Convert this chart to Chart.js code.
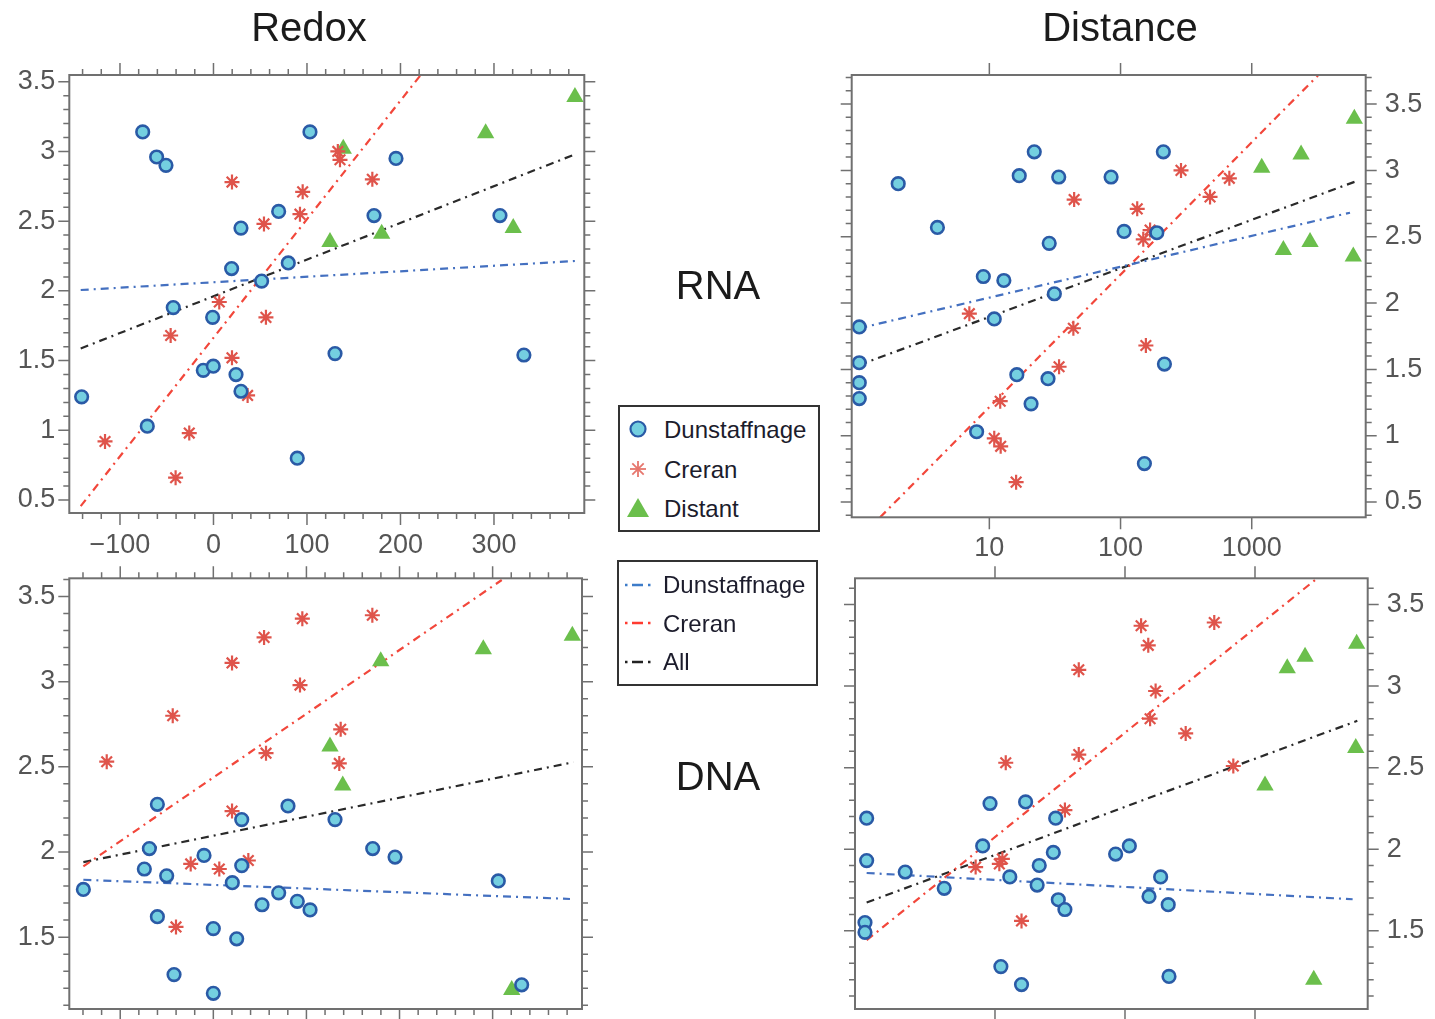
<!DOCTYPE html>
<html><head><meta charset="utf-8">
<script src="https://cdn.jsdelivr.net/npm/chart.js@4.4.1/dist/chart.umd.min.js"></script>
<style>
html,body{margin:0;padding:0;background:#fff;width:1435px;height:1019px;overflow:hidden;font-family:"Liberation Sans",Arial,sans-serif;}
canvas{position:absolute;left:0;top:0;}
.t{position:absolute;font-size:40px;color:#1b1b1b;transform:translate(-50%,-50%);white-space:nowrap;line-height:1}
.lg{position:absolute;border:2px solid #333;box-sizing:border-box;background:#fff}
.it{position:absolute;font-size:24px;line-height:1;color:#1c1c2c;transform:translateY(-50%);white-space:nowrap}
svg{position:absolute;overflow:visible}
</style></head>
<body>
<canvas id="c1" width="1435" height="1019"></canvas>
<canvas id="c2" width="1435" height="1019"></canvas>
<canvas id="c3" width="1435" height="1019"></canvas>
<canvas id="c4" width="1435" height="1019"></canvas>

<div class="t" style="left:309px;top:27px">Redox</div>
<div class="t" style="left:1120px;top:27px">Distance</div>
<div class="t" style="left:718px;top:285px">RNA</div>
<div class="t" style="left:718px;top:776px">DNA</div>

<div class="lg" style="left:618px;top:405px;width:202px;height:127px"></div>
<svg style="left:0;top:0" width="1" height="1">
  <circle cx="638" cy="429" r="7.5" fill="#74cfe0" stroke="#2a5aa6" stroke-width="2.2"/>
  <g stroke="#e6766d" stroke-width="1.8">
    <line x1="630" y1="469" x2="646" y2="469"/><line x1="638" y1="461" x2="638" y2="477"/>
    <line x1="632.3" y1="463.3" x2="643.7" y2="474.7"/><line x1="632.3" y1="474.7" x2="643.7" y2="463.3"/>
  </g>
  <polygon points="638,498 649,517 627,517" fill="#6bbf4c"/>
  <g stroke-width="2.6">
    <path d="M625 585 h2.5 M632 585 h11 M648 585 h2.5" stroke="#3d7cc9"/>
    <path d="M625 623 h2.5 M632 623 h11 M648 623 h2.5" stroke="#ff3b30"/>
    <path d="M625 662 h2.5 M632 662 h11 M648 662 h2.5" stroke="#222"/>
  </g>
</svg>
<div class="it" style="left:664px;top:430px">Dunstaffnage</div>
<div class="it" style="left:664px;top:470px">Creran</div>
<div class="it" style="left:664px;top:509px">Distant</div>
<div class="lg" style="left:617px;top:560px;width:201px;height:126px;background:transparent"></div>
<div class="it" style="left:663px;top:585px">Dunstaffnage</div>
<div class="it" style="left:663px;top:624px">Creran</div>
<div class="it" style="left:663px;top:662px">All</div>

<script>
// ---------- tick labels ----------
const redoxTicks = [-100, 0, 100, 200, 300];
const distanceTicks = [10, 100, 1000];
const rnaYTicks = [0.5, 1, 1.5, 2, 2.5, 3, 3.5];
const dnaYTicks = [1.5, 2, 2.5, 3, 3.5];

// ---------- RNA vs Redox ----------
const rnaRedoxDunstaffnage = [[-75.7,3.14],[103.2,3.14],[-60.8,2.96],[-50.8,2.90],[69.7,2.57],[29.4,2.45],[80,2.20],[19.4,2.16],[51.5,2.07],[-43,1.88],[-0.9,1.81],[-10.9,1.43],[-0.2,1.46],[24.1,1.40],[29.4,1.28],[-141,1.24],[-70.8,1.03],[89.6,0.80],[195.2,2.95],[171.7,2.54],[306.4,2.54],[130,1.55],[332,1.54]];
const rnaRedoxCreran = [[19.8,2.78],[95.4,2.71],[92.5,2.55],[54,2.48],[6.2,1.92],[56.1,1.81],[-45.8,1.68],[19.8,1.52],[36.5,1.25],[-116,0.92],[-25.9,0.98],[-40.5,0.66],[133,3.00],[135.3,2.94],[169.9,2.80]];
const rnaRedoxDistant = [[138.8,3.02],[291.1,3.13],[386.6,3.39],[124.6,2.35],[179.9,2.41],[320.6,2.45]];
const rnaRedoxFitDunstaffnage = [[-142,2.006],[386.6,2.214]];
const rnaRedoxFitCreran = [[-142,0.456],[221.6,3.548]];
const rnaRedoxFitAll = [[-142,1.587],[386.6,2.979]];

// ---------- DNA vs Redox ----------
const dnaRedoxDunstaffnage = [[-60.1,2.28],[80.2,2.27],[30.5,2.19],[-68.7,2.02],[-10,1.98],[-74.1,1.90],[-50.1,1.86],[30.5,1.92],[20.4,1.82],[-139.6,1.78],[70.2,1.76],[52.3,1.69],[90.2,1.71],[103.9,1.66],[-60.1,1.62],[0,1.55],[25.1,1.49],[-42.2,1.28],[0,1.17],[130.7,2.19],[171.2,2.02],[195.2,1.97],[306.1,1.83],[331.2,1.22]];
const dnaRedoxCreran = [[95.6,3.37],[54.5,3.26],[20.1,3.11],[93.1,2.98],[-43.6,2.80],[56.6,2.58],[-114.5,2.53],[20.1,2.24],[37.6,1.95],[-24.3,1.93],[6.4,1.90],[-40.1,1.56],[170.8,3.39],[136.8,2.72],[135.3,2.52]];
const dnaRedoxDistant = [[179.8,3.12],[290,3.19],[385.6,3.27],[125.3,2.62],[139,2.39],[320.5,1.19]];
const dnaRedoxFitDunstaffnage = [[-139.6,1.837],[383.1,1.724]];
const dnaRedoxFitCreran = [[-139.6,1.915],[309.8,3.597]];
const dnaRedoxFitAll = [[-139.6,1.94],[386.7,2.527]];

// ---------- RNA vs Distance ----------
const rnaDistDunstaffnage = [[2.02,2.90],[22.0,3.14],[16.9,2.96],[33.8,2.95],[84.7,2.95],[4.02,2.57],[28.6,2.45],[9.0,2.20],[12.9,2.17],[31.3,2.07],[10.9,1.88],[1.02,1.82],[1.02,1.55],[1.02,1.40],[1.02,1.28],[16.2,1.46],[28.0,1.43],[20.8,1.24],[8.0,1.03],[212,3.14],[106.4,2.54],[189,2.53],[216,1.54],[152,0.79]];
const rnaDistCreran = [[44.3,2.78],[7.04,1.92],[43.7,1.81],[34.0,1.52],[12.1,1.26],[10.9,0.98],[12.2,0.92],[16.0,0.65],[289,3.00],[675,2.94],[481,2.80],[134,2.71],[168,2.55],[149,2.48],[156,1.68]];
const rnaDistDistant = [[6053,3.39],[2377,3.12],[1192,3.02],[1742,2.40],[2782,2.46],[5943,2.35]];
const rnaDistFitDunstaffnage = [[1.02,1.81],[5610,2.681]];
const rnaDistFitCreran = [[1.47,0.385],[3221,3.719]];
const rnaDistFitAll = [[1.02,1.533],[6124,2.915]];

// ---------- DNA vs Distance ----------
const dnaDistDunstaffnage = [[1.03,2.19],[1.03,1.93],[1.0,1.55],[1.0,1.49],[2.04,1.86],[4.07,1.76],[9.16,2.28],[17.2,2.29],[29.3,2.19],[8.04,2.02],[28.1,1.98],[21.9,1.90],[13.0,1.83],[21.1,1.78],[30.7,1.69],[34.5,1.63],[11.1,1.28],[16.0,1.17],[84.7,1.97],[108,2.02],[188,1.83],[153,1.71],[215,1.66],[218,1.22]];
const dnaDistCreran = [[44.1,3.10],[44.1,2.58],[12.1,2.53],[34.5,2.24],[11.4,1.94],[10.8,1.91],[7.1,1.89],[16.0,1.56],[133,3.37],[486,3.39],[151,3.25],[172,2.97],[156,2.80],[293,2.71],[681,2.51]];
const dnaDistDistant = [[6053,3.26],[2427,3.18],[1770,3.11],[5957,2.62],[1194,2.39],[2831,1.20]];
const dnaDistFitDunstaffnage = [[1.03,1.854],[5636,1.693]];
const dnaDistFitCreran = [[1.03,1.442],[2944,3.655]];
const dnaDistFitAll = [[1.03,1.673],[6124,2.787]];

// ---------- drawing ----------
const W = 1435, H = 1019, AX = 60;
const pts = a => a.map(([x, y]) => ({x, y}));
const fmt = v => (v < 0 ? '\u2212' + Math.abs(v) : String(v));
const tickFont = {family: 'Liberation Sans', size: 27};

const frameTicks = {
  id: 'frameTicks',
  afterDraw(chart, args, o) {
    const ctx = chart.ctx, a = chart.chartArea, xs = chart.scales.x, ys = chart.scales.y;
    const steps = (min, max, minor, major) => {
      const out = [];
      const i0 = Math.ceil(min / minor - 1e-9), i1 = Math.floor(max / minor + 1e-9);
      for (let i = i0; i <= i1; i++) {
        const v = i * minor, r = v / major;
        out.push({v, major: Math.abs(r - Math.round(r)) < 1e-6});
      }
      return out;
    };
    ctx.save();
    ctx.strokeStyle = '#707070';
    ctx.lineWidth = 1.5;
    ctx.beginPath();
    const xt = o.xLog ? o.xLog.map(v => ({v, major: true})) : steps(xs.min, xs.max, o.xMinor, o.xMajor);
    xt.forEach(t => {
      const p = xs.getPixelForValue(t.v), L = t.major ? 12 : 6;
      ctx.moveTo(p, a.top); ctx.lineTo(p, a.top - L);
      ctx.moveTo(p, a.bottom); ctx.lineTo(p, a.bottom + L);
    });
    steps(ys.min, ys.max, o.yMinor, o.yMajor).forEach(t => {
      const p = ys.getPixelForValue(t.v), L = t.major ? 11 : 6;
      ctx.moveTo(a.left, p); ctx.lineTo(a.left - L, p);
      ctx.moveTo(a.right, p); ctx.lineTo(a.right + L, p);
    });
    ctx.stroke();
    ctx.lineWidth = 2;
    ctx.strokeRect(a.left, a.top, a.right - a.left, a.bottom - a.top);
    ctx.restore();
  }
};

function zeroPad(s) { s.paddingLeft = s.paddingRight = s.paddingTop = s.paddingBottom = 0; }

function makeChart(id, p, s) {
  const padding = {
    left: p.yPos === 'left' ? p.frame.l - AX : p.frame.l,
    right: W - p.frame.r - (p.yPos === 'right' ? AX : 0),
    top: p.frame.t,
    bottom: H - p.frame.b - (p.xLabels ? AX : 0)
  };
  const line = (data, color) => ({
    data: pts(data), showLine: true, pointRadius: 0, borderColor: color, borderWidth: 2.2,
    borderDash: [8, 5, 2, 5], fill: false, tension: 0, clip: 0
  });
  return new Chart(document.getElementById(id), {
    type: 'scatter',
    data: {
      datasets: [
        {label: 'Dunstaffnage', data: pts(s.dun), pointStyle: 'circle', pointRadius: 6.3,
         pointBackgroundColor: '#74cfe0', pointBorderColor: '#2a5aa6', pointBorderWidth: 2.6, clip: false},
        {label: 'Creran', data: pts(s.cre), pointStyle: 'star', pointRadius: 7.5,
         pointBorderColor: '#df544b', pointBackgroundColor: '#df544b', pointBorderWidth: 2.2, clip: false},
        {label: 'Distant', data: pts(s.dist), pointStyle: 'triangle', pointRadius: 10,
         pointBackgroundColor: '#6bbf4c', pointBorderColor: '#6bbf4c', pointBorderWidth: 0, clip: false},
        line(s.fitDun, '#4470c0'),
        line(s.fitCre, '#f2473b'),
        line(s.fitAll, '#2a2a2a')
      ]
    },
    options: {
      responsive: false, animation: false, events: [],
      layout: {padding},
      plugins: {legend: {display: false}, tooltip: {enabled: false},
        frameTicks: p.ticks},
      scales: {
        x: {
          type: p.xType, position: 'bottom', min: p.xMin, max: p.xMax, bounds: 'data',
          grid: {display: false, drawTicks: false}, border: {display: false},
          ticks: {display: p.xLabels, font: tickFont, color: '#555555', padding: p.xPad,
                  maxRotation: 0, minRotation: 0, autoSkip: false, callback: fmt},
          afterBuildTicks: sc => { sc.ticks = p.xTicks.map(v => ({value: v})); },
          afterFit: sc => { sc.height = p.xLabels ? AX : 0; zeroPad(sc); }
        },
        y: {
          type: 'linear', position: p.yPos, min: p.yMin, max: p.yMax, bounds: 'data',
          grid: {display: false, drawTicks: false}, border: {display: false},
          ticks: {font: tickFont, color: '#555555', padding: p.yPad, autoSkip: false, callback: fmt},
          afterBuildTicks: sc => { sc.ticks = p.yTicks.map(v => ({value: v})); },
          afterFit: sc => { sc.width = AX; zeroPad(sc); }
        }
      }
    },
    plugins: [frameTicks]
  });
}

const linTicks = {xMinor: 20, xMajor: 100, yMinor: 0.1, yMajor: 0.5};
const logTicks = {xLog: distanceTicks, yMinor: 0.1, yMajor: 0.5};

makeChart('c1', {frame: {l: 69.3, t: 75, r: 584.3, b: 513}, xType: 'linear', xMin: -154.2, xMax: 396.6,
  yMin: 0.407, yMax: 3.548, yPos: 'left', xLabels: true, xPad: 16, yPad: 14,
  xTicks: redoxTicks, yTicks: rnaYTicks, ticks: linTicks},
  {dun: rnaRedoxDunstaffnage, cre: rnaRedoxCreran, dist: rnaRedoxDistant,
   fitDun: rnaRedoxFitDunstaffnage, fitCre: rnaRedoxFitCreran, fitAll: rnaRedoxFitAll});

makeChart('c2', {frame: {l: 69.3, t: 578.3, r: 582, b: 1011.7}, xType: 'linear', xMin: -154.7, xMax: 396,
  yMin: 1.078, yMax: 3.607, yPos: 'left', xLabels: false, xPad: 16, yPad: 14,
  xTicks: redoxTicks, yTicks: dnaYTicks, ticks: linTicks},
  {dun: dnaRedoxDunstaffnage, cre: dnaRedoxCreran, dist: dnaRedoxDistant,
   fitDun: dnaRedoxFitDunstaffnage, fitCre: dnaRedoxFitCreran, fitAll: dnaRedoxFitAll});

makeChart('c3', {frame: {l: 851.7, t: 75, r: 1365.7, b: 517.3}, xType: 'logarithmic', xMin: 0.893, xMax: 7390,
  yMin: 0.385, yMax: 3.719, yPos: 'right', xLabels: true, xPad: 15, yPad: 19,
  xTicks: distanceTicks, yTicks: rnaYTicks, ticks: logTicks},
  {dun: rnaDistDunstaffnage, cre: rnaDistCreran, dist: rnaDistDistant,
   fitDun: rnaDistFitDunstaffnage, fitCre: rnaDistFitCreran, fitAll: rnaDistFitAll});

makeChart('c4', {frame: {l: 855, t: 578.3, r: 1367.7, b: 1016.7}, xType: 'logarithmic', xMin: 0.838, xMax: 7360,
  yMin: 1.02, yMax: 3.661, yPos: 'right', xLabels: false, xPad: 15, yPad: 19,
  xTicks: distanceTicks, yTicks: dnaYTicks, ticks: logTicks},
  {dun: dnaDistDunstaffnage, cre: dnaDistCreran, dist: dnaDistDistant,
   fitDun: dnaDistFitDunstaffnage, fitCre: dnaDistFitCreran, fitAll: dnaDistFitAll});
</script>
</body></html>
